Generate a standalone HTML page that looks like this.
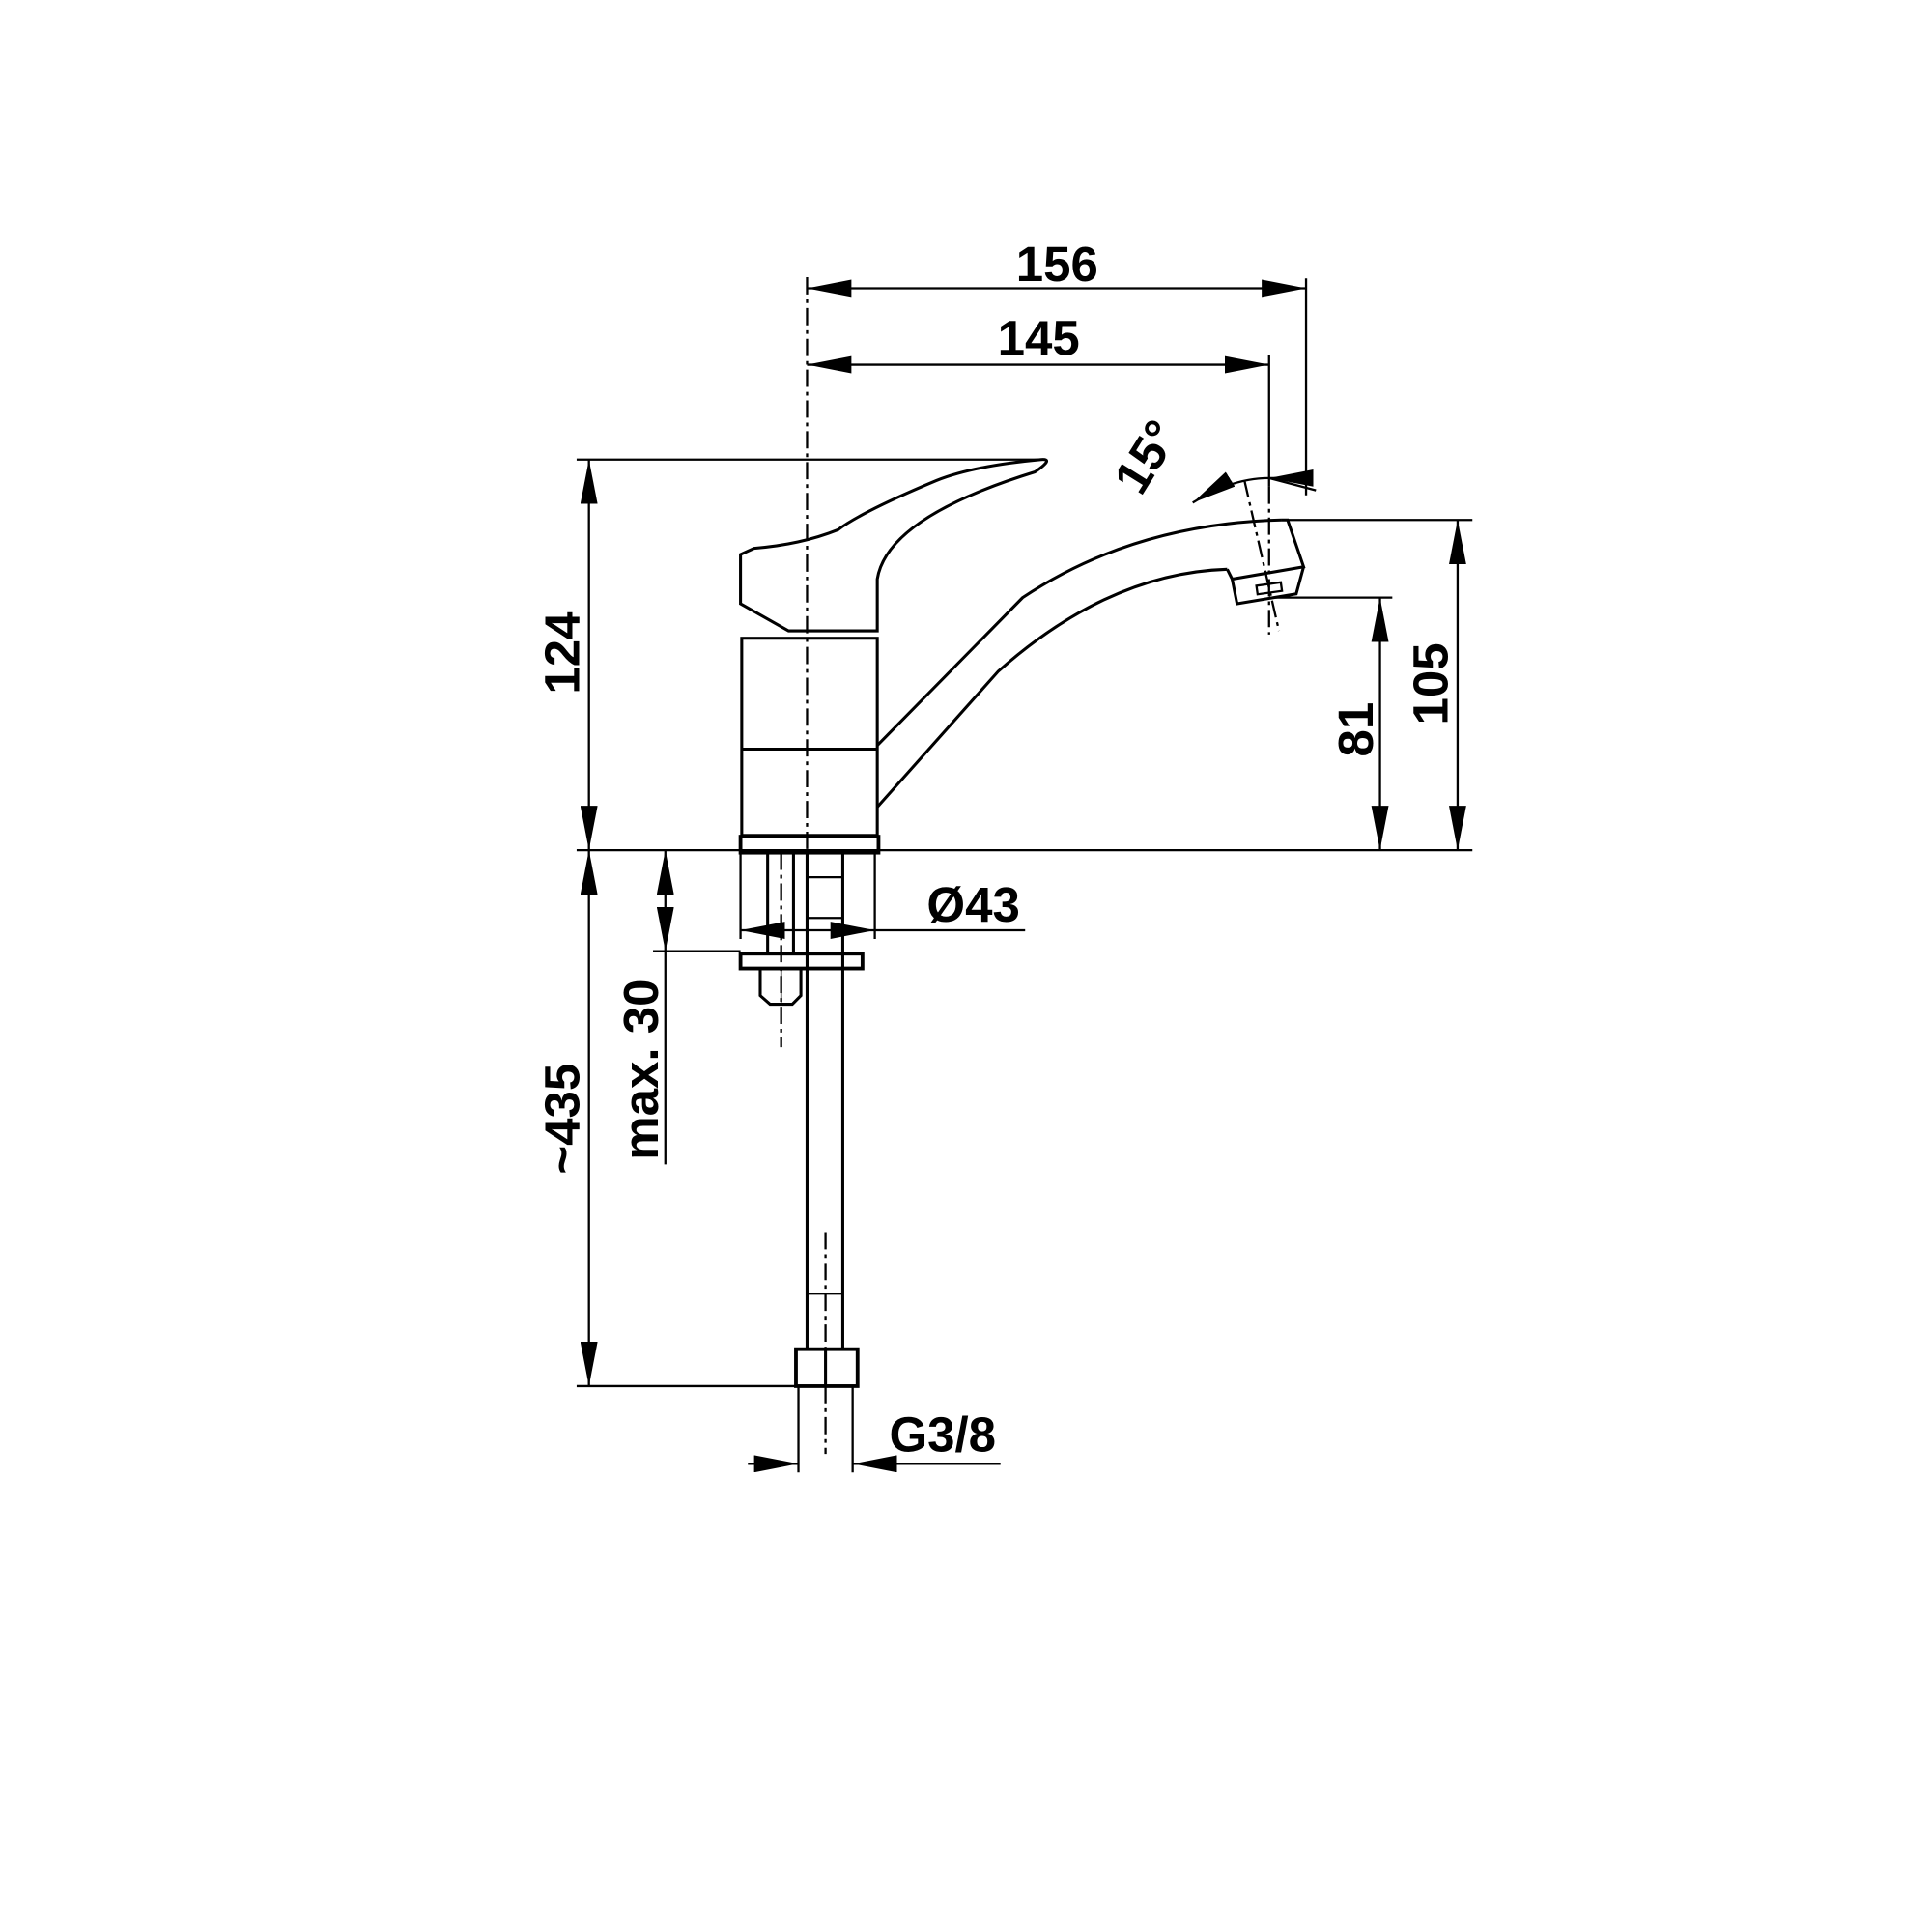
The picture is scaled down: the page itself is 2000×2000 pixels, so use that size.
<!DOCTYPE html>
<html><head><meta charset="utf-8"><style>html,body{margin:0;padding:0;background:#fff}svg{display:block}</style></head>
<body>
<svg width="2000" height="2000" viewBox="0 0 1568 1568" xmlns="http://www.w3.org/2000/svg" font-family="Liberation Sans, Arial, sans-serif" font-weight="bold">
<defs>
<marker id="a" viewBox="0 0 10 10" refX="10" refY="5" markerWidth="36" markerHeight="14" markerUnits="userSpaceOnUse" orient="auto-start-reverse" preserveAspectRatio="none"><path d="M0,0L10,5L0,10z" fill="#000"/></marker>
</defs>
<g stroke="#000" fill="none" stroke-width="1.8">
<line x1="655" y1="225" x2="655" y2="850" stroke-dasharray="14,4,3,4"/>
<line x1="655" y1="234" x2="1060" y2="234" marker-start="url(#a)" marker-end="url(#a)"/>
<line x1="1060" y1="226" x2="1060" y2="402"/>
<line x1="655" y1="296" x2="1030" y2="296" marker-start="url(#a)" marker-end="url(#a)"/>
<line x1="1030" y1="288" x2="1030" y2="395"/>
<line x1="1030" y1="395" x2="1030" y2="515" stroke-dasharray="14,4,3,4"/>
<line x1="468" y1="373" x2="848" y2="373"/>
<line x1="478" y1="373" x2="478" y2="690" marker-start="url(#a)" marker-end="url(#a)"/>
<line x1="468" y1="690" x2="1195" y2="690"/>
<line x1="1045" y1="422" x2="1195" y2="422"/>
<line x1="1183" y1="422" x2="1183" y2="690" marker-start="url(#a)" marker-end="url(#a)"/>
<line x1="1030" y1="485" x2="1130" y2="485"/>
<line x1="1120" y1="485" x2="1120" y2="690" marker-start="url(#a)" marker-end="url(#a)"/>
<path d="M968,408 Q1000,388 1030,388" marker-start="url(#a)"/>
<line x1="1030" y1="388" x2="1068" y2="398"/>
<line x1="1060" y1="388" x2="1030" y2="388" marker-end="url(#a)"/>
<line x1="1010" y1="390" x2="1038" y2="512" stroke-dasharray="14,4,3,4"/>
<path d="M601,450 L601,490 L640,512 L712,512 L712,470 Q720,420 840,383 Q856,372 845,373 Q790,378 760,390 Q700,415 680,430 Q650,442 612,445 Z" stroke-width="2.4"/>
<rect x="602" y="518" width="110" height="160" stroke-width="2.4"/>
<line x1="602" y1="608" x2="712" y2="608" stroke-width="2.4"/>
<rect x="601" y="679" width="112" height="13" stroke-width="3"/>
<path d="M712,605 L830,485 Q920,425 1040,422" stroke-width="2.4"/>
<path d="M712,655 L810,545 Q900,465 996,462" stroke-width="2.4"/>
<path d="M1040,422 L1045,422 L1058,460 L1000,470 L996,462" stroke-width="2.4"/>
<path d="M1000,470 L1004,490 L1052,482 L1058,460" stroke-width="2.4"/>
<rect x="1020" y="474" width="20" height="7" stroke-width="1.8" transform="rotate(-8 1030 477)"/>
<line x1="601" y1="692" x2="601" y2="762"/>
<line x1="710" y1="692" x2="710" y2="762"/>
<line x1="655" y1="755" x2="601" y2="755" marker-end="url(#a)"/>
<line x1="655" y1="755" x2="710" y2="755" marker-end="url(#a)"/>
<line x1="710" y1="755" x2="832" y2="755"/>
<line x1="623" y1="692" x2="623" y2="774" stroke-width="2.4"/>
<line x1="644" y1="692" x2="644" y2="774" stroke-width="2.4"/>
<line x1="634" y1="692" x2="634" y2="850" stroke-dasharray="14,4,3,4"/>
<rect x="601" y="774" width="99" height="12" stroke-width="3"/>
<path d="M617,786 L617,808 L625,815 L643,815 L650,808 L650,786" stroke-width="2.4"/>
<line x1="634" y1="786" x2="634" y2="815" stroke-width="1.2"/>
<line x1="655" y1="692" x2="655" y2="1095" stroke-width="2.4"/>
<line x1="684" y1="692" x2="684" y2="1095" stroke-width="2.4"/>
<line x1="655" y1="712" x2="684" y2="712" stroke-width="1.8"/>
<line x1="655" y1="745" x2="684" y2="745" stroke-width="1.8"/>
<line x1="655" y1="1050" x2="684" y2="1050" stroke-width="1.8"/>
<line x1="670" y1="1000" x2="670" y2="1180" stroke-dasharray="14,4,3,4"/>
<rect x="646" y="1095" width="50" height="30" stroke-width="3"/>
<line x1="670" y1="1095" x2="670" y2="1125" stroke-width="2.4"/>
<line x1="530" y1="772" x2="601" y2="772"/>
<line x1="540" y1="690" x2="540" y2="772" marker-start="url(#a)" marker-end="url(#a)"/>
<line x1="540" y1="772" x2="540" y2="945"/>
<line x1="468" y1="1125" x2="646" y2="1125"/>
<line x1="478" y1="690" x2="478" y2="1125" marker-start="url(#a)" marker-end="url(#a)"/>
<line x1="648" y1="1125" x2="648" y2="1195"/>
<line x1="692" y1="1125" x2="692" y2="1195"/>
<line x1="607" y1="1188" x2="648" y2="1188" marker-end="url(#a)"/>
<line x1="812" y1="1188" x2="692" y2="1188" marker-end="url(#a)"/>
</g>
<g fill="#000" font-size="40" font-weight="bold">
<text x="858" y="228" text-anchor="middle">156</text>
<text x="843" y="288" text-anchor="middle">145</text>
<text x="790" y="748" text-anchor="middle">Ø43</text>
<text x="765" y="1178" text-anchor="middle">G3/8</text>
<text transform="translate(470,530) rotate(-90)" text-anchor="middle">124</text>
<text transform="translate(1175,555) rotate(-90)" text-anchor="middle">105</text>
<text transform="translate(1114,592) rotate(-90)" text-anchor="middle">81</text>
<text transform="translate(470,908) rotate(-90)" text-anchor="middle">~435</text>
<text transform="translate(534,868) rotate(-90)" text-anchor="middle">max. 30</text>
<text transform="translate(942,378) rotate(-58)" text-anchor="middle">15°</text>
</g>
</svg>
</body></html>
